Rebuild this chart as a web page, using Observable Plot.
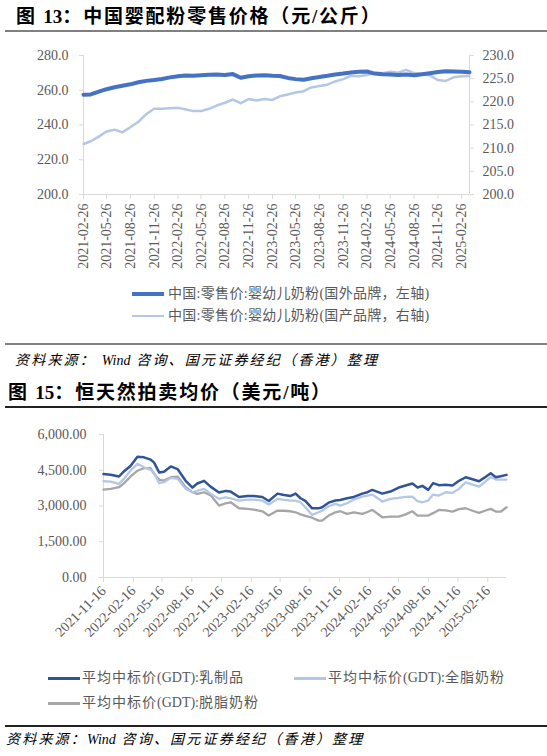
<!DOCTYPE html>
<html lang="zh">
<head>
<meta charset="UTF-8">
<title>中国婴配粉零售价格 / 恒天然拍卖均价</title>
<script src="https://cdn.jsdelivr.net/npm/d3@7"></script>
<script src="https://cdn.jsdelivr.net/npm/@observablehq/plot@0.6"></script>
<style>
  body { margin: 0; background: #fff; }
  #page { position: relative; width: 547px; height: 756px; overflow: hidden; background: #fff;
          font-family: "Liberation Serif", "Noto Sans CJK SC", serif; }
  .abs { position: absolute; white-space: nowrap; }
  .title { font-size: 19px; font-weight: bold; line-height: 24px; color: #000; letter-spacing: 1.8px; }
  .rule { position: absolute; left: 5px; width: 542px; }
  .src { font-size: 14px; font-style: italic; line-height: 18px; color: #000; letter-spacing: 2.2px; }
  .leg { font-size: 14px; line-height: 16px; color: #595959; letter-spacing: 0.3px; }
  .leg2 { letter-spacing: 1px; }
  .lat { letter-spacing: 0; }
  .swatch { position: absolute; width: 32px; }
  svg { position: absolute; left: 0; }
</style>
</head>
<body>
<div id="page">
  <div class="abs title" style="left:16px;top:5px">图 <span class="lat">13</span>：中国婴配粉零售价格（元/公斤）</div>
  <div class="rule" style="top:30px;height:2px;background:#808080"></div>
  <div id="chart1"></div>
  <div class="swatch" style="left:132px;top:292px;height:4px;background:#4472C4"></div>
  <div class="abs leg" style="left:168px;top:286px">中国:零售价:婴幼儿奶粉(国外品牌，左轴)</div>
  <div class="swatch" style="left:132px;top:315px;height:2px;background:#B4C7E7"></div>
  <div class="abs leg" style="left:168px;top:308px">中国:零售价:婴幼儿奶粉(国产品牌，右轴)</div>
  <div class="rule" style="top:343px;height:2px;background:#808080"></div>
  <div class="abs src" style="left:15px;top:352px">资料来源： <span class="lat">Wind</span> 咨询、国元证券经纪（香港）整理</div>

  <div class="abs title" style="left:8px;top:381px">图 <span class="lat">15</span>：恒天然拍卖均价（美元/吨）</div>
  <div class="rule" style="top:406px;height:1.5px;background:#222"></div>
  <div id="chart2"></div>
  <div class="swatch" style="left:48px;top:677px;height:2.5px;background:#2F5597"></div>
  <div class="abs leg leg2" style="left:82px;top:670px">平均中标价<span class="lat">(GDT):</span>乳制品</div>
  <div class="swatch" style="left:294px;top:677px;height:2.5px;background:#B4C7E7"></div>
  <div class="abs leg leg2" style="left:328px;top:670px">平均中标价<span class="lat">(GDT):</span>全脂奶粉</div>
  <div class="swatch" style="left:48px;top:702px;height:2.5px;background:#A6A6A6"></div>
  <div class="abs leg leg2" style="left:82px;top:695px">平均中标价<span class="lat">(GDT):</span>脱脂奶粉</div>
  <div class="rule" style="top:725px;height:1.5px;background:#222"></div>
  <div class="abs src" style="left:6px;top:731px">资料来源：<span class="lat">Wind</span> 咨询、国元证券经纪（香港）整理</div>
</div>

<script>
// ---- 图13 中国婴配粉零售价格 (monthly readings) ----
const retailDates = [
  "2021-02-26","2021-03-26","2021-04-26","2021-05-26","2021-06-26","2021-07-26","2021-08-26","2021-09-26",
  "2021-10-26","2021-11-26","2021-12-26","2022-01-26","2022-02-26","2022-03-26","2022-04-26","2022-05-26",
  "2022-06-26","2022-07-26","2022-08-26","2022-09-26","2022-10-26","2022-11-26","2022-12-26","2023-01-26",
  "2023-02-26","2023-03-26","2023-04-26","2023-05-26","2023-06-26","2023-07-26","2023-08-26","2023-09-26",
  "2023-10-26","2023-11-26","2023-12-26","2024-01-26","2024-02-26","2024-03-26","2024-04-26","2024-05-26",
  "2024-06-26","2024-07-26","2024-08-26","2024-09-26","2024-10-26","2024-11-26","2024-12-26","2025-01-26",
  "2025-02-26","2025-03-28"
];
// 国外品牌 (left axis)
const foreignBrand = [
  257.4,257.6,259.2,260.6,261.7,262.6,263.4,264.6,265.4,265.9,266.5,267.4,268.1,268.5,268.3,268.6,
  268.9,269.0,268.8,269.3,267.2,268.1,268.5,268.6,268.3,268.2,267.1,266.4,266.0,266.9,267.6,268.3,
  269.1,269.6,270.2,270.6,270.8,269.6,269.2,269.0,268.8,269.0,268.6,269.2,269.8,270.5,270.9,270.8,
  270.6,270.4
];
// 国产品牌 (right axis)
const domesticBrand = [
  210.9,211.5,212.5,213.6,214.0,213.4,214.5,215.7,217.3,218.5,218.5,218.6,218.7,218.4,218.0,218.0,
  218.5,219.2,219.8,220.5,219.7,220.6,220.3,220.6,220.4,221.2,221.6,222.0,222.3,223.1,223.4,223.7,
  224.4,224.9,225.6,225.5,225.8,226.2,226.2,226.5,226.3,226.9,226.2,226.0,225.7,224.7,224.5,225.3,
  225.5,225.6
];
const retailTicks = [
  "2021-02-26","2021-05-26","2021-08-26","2021-11-26","2022-02-26","2022-05-26","2022-08-26","2022-11-26",
  "2023-02-26","2023-05-26","2023-08-26","2023-11-26","2024-02-26","2024-05-26","2024-08-26","2024-11-26",
  "2025-02-26"
];
const leftTicks = [200, 220, 240, 260, 280];
const rightTicks = [200, 205, 210, 215, 220, 225, 230];

// ---- 图15 恒天然拍卖均价 (auction readings) ----
const gdtDates = [
  "2021-11-16","2021-12-08","2022-01-03","2022-01-18","2022-02-08","2022-03-01","2022-03-21","2022-04-11",
  "2022-04-21","2022-05-07","2022-05-22","2022-06-12","2022-07-03","2022-07-28","2022-08-18","2022-09-02",
  "2022-09-23","2022-10-14","2022-11-08","2022-11-29","2022-12-14","2023-01-09","2023-02-04","2023-02-24",
  "2023-03-22","2023-04-11","2023-05-08","2023-05-28","2023-06-18","2023-07-03","2023-07-18","2023-08-02",
  "2023-08-23","2023-09-12","2023-09-23","2023-10-13","2023-11-03","2023-11-18","2023-12-09","2023-12-30",
  "2024-01-25","2024-02-10","2024-02-25","2024-03-27","2024-04-21","2024-05-17","2024-06-07","2024-06-28",
  "2024-07-14","2024-07-29","2024-08-16","2024-08-31","2024-09-18","2024-10-09","2024-10-30","2024-11-19",
  "2024-12-10","2024-12-31","2025-01-20","2025-02-07","2025-02-25","2025-03-13","2025-03-28","2025-04-15"
];
const dairy = [
  4339,4310,4238,4450,4690,5070,5042,4944,4831,4408,4437,4661,4550,4056,3773,3943,
  4056,3803,3563,3634,3605,3380,3423,3423,3380,3212,3520,3465,3423,3520,3325,3212,
  2902,2902,2950,3140,3230,3254,3325,3380,3520,3580,3676,3520,3605,3775,3860,3943,
  3775,3845,3676,3960,3875,3890,3858,4056,4207,4120,4039,4200,4375,4207,4250,4306
];
const wmp = [
  4039,4026,3929,4139,4488,4769,4627,4517,4400,3955,3997,4181,4139,3719,3577,3640,
  3719,3509,3299,3367,3325,3228,3270,3270,3228,3060,3299,3255,3228,3228,3157,2947,
  2627,2737,2800,2990,3089,3018,3115,3270,3396,3440,3480,3186,3299,3340,3380,3396,
  3200,3157,3228,3480,3438,3577,3550,3719,3997,3900,3816,4000,4207,4110,4110,4110
];
const smp = [
  3690,3720,3787,3950,4240,4480,4585,4585,4349,4097,4068,4207,4236,3787,3577,3509,
  3577,3438,3018,3115,3157,2905,2879,2850,2779,2598,2808,2800,2779,2737,2650,2590,
  2510,2388,2388,2598,2737,2780,2667,2737,2667,2750,2837,2527,2556,2556,2650,2779,
  2598,2598,2598,2700,2837,2820,2766,2870,2905,2800,2710,2800,2879,2766,2760,2947
];
const gdtTicks = [
  "2021-11-16","2022-02-16","2022-05-16","2022-08-16","2022-11-16","2023-02-16","2023-05-16",
  "2023-08-16","2023-11-16","2024-02-16","2024-05-16","2024-08-16","2024-11-16","2025-02-16"
];
const gdtYTicks = [0, 1500, 3000, 4500, 6000];

const parse = d3.utcParse("%Y-%m-%d");
const fmtDate = d3.utcFormat("%Y-%m-%d");
const axisGrey = "#D9D9D9";
const labelGrey = "#595959";

// right axis (200–230) mapped onto left axis (200–280)
const toLeft = v => 200 + (v - 200) * 80 / 30;
const fromLeft = v => 200 + (v - 200) * 30 / 80;

const retail = retailDates.map((d, i) => ({
  date: parse(d), foreign: foreignBrand[i], domestic: toLeft(domesticBrand[i])
}));
const x1 = [parse(retailDates[0]), parse(retailDates[retailDates.length - 1])];

const chart1 = Plot.plot({
  width: 547, height: 234,
  marginLeft: 83, marginRight: 78, marginTop: 15, marginBottom: 80,
  style: { fontFamily: "Liberation Serif", fontSize: "14px", background: "transparent" },
  x: { type: "utc", domain: x1 },
  y: { domain: [200, 280] },
  marks: [
    Plot.axisY({ ticks: leftTicks, tickFormat: d => d.toFixed(1), tickSize: 4, tickPadding: 11,
                 stroke: axisGrey, fill: labelGrey, label: null }),
    Plot.axisY({ anchor: "right", ticks: rightTicks.map(toLeft), tickFormat: v => fromLeft(v).toFixed(1),
                 tickSize: 4, tickPadding: 9, stroke: axisGrey, fill: labelGrey, label: null }),
    Plot.axisX({ ticks: retailTicks.map(parse), tickFormat: fmtDate, tickRotate: -90, tickSize: 5,
                 tickPadding: 4, stroke: axisGrey, fill: labelGrey, label: null }),
    Plot.ruleX([x1[0]], { stroke: axisGrey }),
    Plot.ruleX([x1[1]], { stroke: axisGrey }),
    Plot.ruleY([200], { stroke: axisGrey }),
    Plot.line(retail, { x: "date", y: "domestic", stroke: "#B4C7E7", strokeWidth: 2.5 }),
    Plot.line(retail, { x: "date", y: "foreign", stroke: "#4472C4", strokeWidth: 4 })
  ]
});
chart1.style.top = "40px";
document.querySelector("#chart1").append(chart1);

const gdt = gdtDates.map((d, i) => ({ date: parse(d), dairy: dairy[i], wmp: wmp[i], smp: smp[i] }));
const x2 = [parse(gdtDates[0]), parse(gdtDates[gdtDates.length - 1])];

const chart2 = Plot.plot({
  width: 547, height: 232,
  marginLeft: 103, marginRight: 41, marginTop: 14, marginBottom: 75,
  style: { fontFamily: "Liberation Serif", fontSize: "14px", background: "transparent" },
  x: { type: "utc", domain: x2 },
  y: { domain: [0, 6000] },
  marks: [
    Plot.axisY({ ticks: gdtYTicks, tickFormat: d3.format(",.2f"), tickSize: 4, tickPadding: 13,
                 stroke: axisGrey, fill: labelGrey, label: null }),
    Plot.axisX({ ticks: gdtTicks.map(parse), tickFormat: fmtDate, tickRotate: -45, tickSize: 5,
                 tickPadding: 6, stroke: axisGrey, fill: labelGrey, label: null }),
    Plot.ruleX([x2[0]], { stroke: axisGrey }),
    Plot.ruleY([0], { stroke: axisGrey }),
    Plot.line(gdt, { x: "date", y: "smp", stroke: "#A6A6A6", strokeWidth: 2.3 }),
    Plot.line(gdt, { x: "date", y: "wmp", stroke: "#B4C7E7", strokeWidth: 2.3 }),
    Plot.line(gdt, { x: "date", y: "dairy", stroke: "#2F5597", strokeWidth: 2.5 })
  ]
});
chart2.style.top = "420px";
document.querySelector("#chart2").append(chart2);
</script>
</body>
</html>
